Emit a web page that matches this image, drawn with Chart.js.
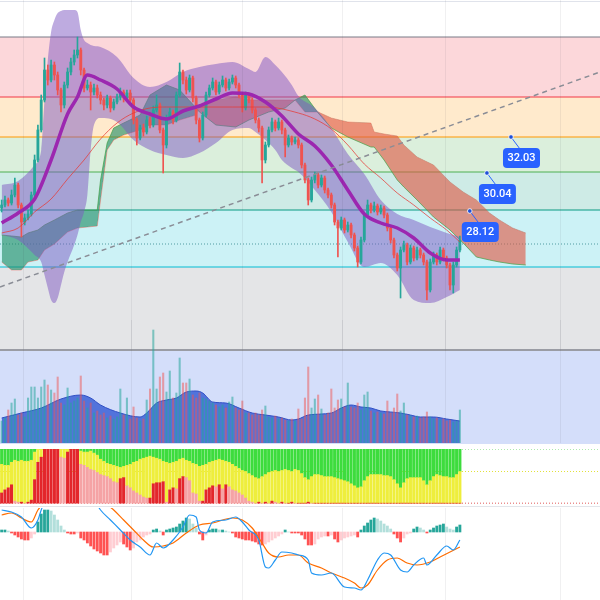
<!DOCTYPE html>
<html><head><meta charset="utf-8">
<script src="https://cdn.jsdelivr.net/npm/chart.js@4.4.0/dist/chart.umd.min.js"></script>
<style>
html,body{margin:0;padding:0;background:#fff;width:600px;height:600px;overflow:hidden;font-family:Roboto,"Noto Sans",sans-serif;}
.pane{position:absolute;left:0;width:600px;}
canvas{position:absolute;left:0;}
</style></head><body>
<div class="pane" style="top:1px;height:0;border-top:1px solid #e0e3eb"></div>
<canvas id="main" width="600" height="350" style="top:0px"></canvas>
<div class="pane" style="top:349px;height:93px;background:#d4defa;border-top:2px solid #9a9ca4"></div>
<canvas id="vol" width="600" height="123" style="top:320px"></canvas>
<canvas id="stk" width="600" height="55" style="top:449px"></canvas>
<div class="pane" style="top:506px;height:0;border-top:1px solid #e3e5ea"></div>
<canvas id="macd" width="600" height="92" style="top:508px"></canvas>
<script>
// ================= DATA =================
const X_MIN = -0.5, X_MAX = 181.5;          // bar-index range of the time axis (incl. future space)
const gridIdx = [23, 56, 90, 117, 152];      // month boundaries (vertical grid)

// OHLC prices
const open = [28.22,28.37,28.62,28.47,28.87,29.37,28.37,27.52,27.72,27.92,
28.87,30.62,32.12,33.62,35.12,34.62,35.37,34.87,34.12,33.37,
34.37,35.02,35.52,35.87,36.12,35.12,34.22,34.37,34.02,34.22,
33.87,33.62,33.37,33.72,33.22,33.52,33.77,34.02,33.72,33.97,
33.62,32.62,31.72,32.22,32.02,32.62,32.37,33.12,33.37,32.12,
31.37,32.72,33.02,32.62,33.87,35.02,34.62,34.12,34.72,33.72,
32.62,31.72,32.87,33.87,34.22,34.52,34.02,34.37,34.62,34.22,
34.52,34.72,34.37,33.87,33.22,33.87,33.62,33.12,32.62,32.22,
30.62,31.37,32.12,32.52,32.22,32.52,32.12,31.37,31.72,31.52,
31.62,31.37,30.37,29.62,28.62,29.62,29.87,29.37,29.72,29.12,
28.87,28.37,27.52,27.22,27.62,27.12,27.37,26.87,26.22,25.52,
26.62,27.87,28.37,28.12,28.32,28.02,28.22,27.87,27.22,26.62,
25.87,25.22,26.12,26.37,25.52,26.22,25.72,26.12,25.87,25.52,
24.12,25.52,25.87,25.52,26.12,25.72,25.37,24.37,25.37,26.12];
const close = [28.37,28.62,28.47,28.87,29.37,28.37,27.52,27.72,27.92,28.87,
30.62,32.12,33.62,35.12,34.62,35.37,34.87,34.12,33.37,34.37,
35.02,35.52,35.87,36.12,35.12,34.22,34.37,34.02,34.22,33.87,
33.62,33.37,33.72,33.22,33.52,33.77,34.02,33.72,33.97,33.62,
32.62,31.72,32.22,32.02,32.62,32.37,33.12,33.37,32.12,31.37,
32.72,33.02,32.62,33.87,35.02,34.62,34.12,34.72,33.72,32.62,
31.72,32.87,33.87,34.22,34.52,34.02,34.37,34.62,34.22,34.52,
34.72,34.37,33.87,33.22,33.87,33.62,33.12,32.62,32.22,30.62,
31.37,32.12,32.52,32.22,32.52,32.12,31.37,31.72,31.52,31.62,
31.37,30.37,29.62,28.62,29.62,29.87,29.37,29.72,29.12,28.87,
28.37,27.52,27.22,27.62,27.12,27.37,26.87,26.22,25.52,26.62,
27.87,28.37,28.12,28.32,28.02,28.22,27.87,27.22,26.62,25.87,
25.22,26.12,26.37,25.52,26.22,25.72,26.12,25.87,25.52,24.12,
25.52,25.87,25.52,26.12,25.72,25.37,24.37,25.37,26.12,26.62];
const high = [28.62,28.82,28.72,29.12,29.72,29.47,28.47,27.92,28.12,29.02,
30.87,32.37,33.87,35.72,35.37,35.62,35.52,35.02,34.22,34.52,
35.22,35.72,36.12,36.77,36.22,35.22,34.62,34.52,34.42,34.37,
34.02,33.72,33.87,33.82,33.67,33.92,34.22,34.12,34.12,34.12,
33.72,32.72,32.37,32.42,32.82,32.77,33.32,33.87,33.47,32.22,
32.87,33.22,33.12,34.02,35.47,35.12,34.77,34.87,34.82,33.82,
32.72,33.02,34.02,34.37,34.72,34.62,34.52,34.82,34.72,34.67,
34.87,34.82,34.47,33.97,34.02,33.97,33.72,33.22,32.72,32.32,
31.52,32.27,32.72,32.62,32.72,32.62,32.22,31.87,31.82,31.77,
31.72,31.47,30.47,29.72,29.77,30.02,29.97,29.87,29.82,29.22,
28.97,28.47,27.62,27.77,27.72,27.52,27.47,26.97,26.32,26.77,
28.02,28.62,28.47,28.52,28.42,28.37,28.32,27.97,27.32,26.72,
25.97,26.27,26.57,26.47,26.37,26.32,26.27,26.22,25.97,25.62,
25.67,26.02,25.97,26.27,26.22,25.82,25.47,25.52,26.27,26.82];
const low = [28.02,28.27,28.32,28.37,28.77,28.22,26.77,27.37,27.62,27.82,
28.77,30.52,32.02,33.52,34.37,34.52,34.62,33.87,33.02,33.22,
34.22,34.87,35.37,35.72,34.87,34.02,34.12,33.12,33.87,33.72,
33.42,33.12,33.22,33.02,33.12,33.42,33.62,33.52,33.62,33.42,
32.42,31.37,31.62,31.82,31.92,32.22,32.27,33.02,31.97,29.97,
31.22,32.62,32.42,32.52,33.77,34.42,33.92,34.02,33.52,32.42,
31.52,31.62,32.77,33.77,34.12,33.87,33.92,34.27,34.07,34.12,
34.42,34.22,33.72,33.02,33.12,33.47,32.97,32.47,32.02,29.47,
30.47,31.27,32.02,32.07,32.12,31.92,30.77,31.27,31.37,31.42,
31.22,30.22,29.47,28.37,28.52,29.47,29.22,29.27,28.97,28.72,
28.22,27.37,25.77,27.12,26.97,27.02,26.72,26.07,25.27,25.42,
26.52,27.77,27.97,28.02,27.87,27.92,27.72,27.07,26.47,25.72,
25.07,23.72,26.02,25.37,25.42,25.57,25.62,25.72,25.37,23.62,
24.02,25.42,25.37,25.42,25.57,25.22,24.12,23.97,25.27,26.02];

// Fibonacci retracement levels (0 .. 1) and extra dotted level
const fibLevels = [36.77, 33.77, 31.77, 30.02, 28.12, 25.27, 21.12];
const oteLevel = 26.42;

// Bollinger-type envelope (sampled at bar indexes)
const bbIdx = [0,5,10,12,13,14,15,16,17,18,19,20,22,23,24,25,26,27,28,30,35,40,45,50,55,60,65,70,75,77,80,83,85,88,90,95,100,105,110,115,120,125,130,135,139];
const bbUpper = [29.37,29.57,30.37,31.12,33.62,35.62,37.02,37.62,37.97,38.07,38.12,38.12,38.12,38.02,37.12,36.62,36.47,36.37,36.32,36.27,35.77,34.72,34.27,34.52,35.02,35.27,35.42,35.52,35.17,35.02,35.77,35.37,35.02,34.37,33.82,33.22,32.22,30.92,29.92,28.62,27.92,27.62,27.27,26.97,26.77];
const bbLower = [26.87,26.62,25.87,25.52,24.87,24.22,23.62,23.47,23.72,24.37,25.02,25.52,26.37,26.87,27.52,28.02,28.87,31.12,32.37,32.72,32.52,31.62,31.12,30.87,30.72,30.97,31.47,32.12,32.22,32.02,31.62,31.12,30.62,30.22,30.02,29.12,28.02,26.52,25.27,25.47,24.87,23.62,23.47,23.77,24.12];
const smaIdx = [0,5,10,15,20,23,26,30,35,40,45,50,55,60,65,70,75,80,85,90,95,100,105,110,115,120,125,130,135,139];
const smaVals = [27.47,27.97,28.67,30.62,32.92,33.77,34.87,34.62,34.17,33.27,32.92,32.67,33.07,33.32,33.67,33.97,33.92,33.52,32.82,31.92,31.32,30.37,29.12,27.92,27.47,27.22,26.72,25.97,25.62,25.62];
const slowIdx = [0,5,10,15,20,25,30,35,40,45,50,60,70,80,90,95,100,105,110,115,120,125,130,135,139];
const slowVals = [26.97,27.22,28.02,28.67,29.67,30.62,31.67,32.47,32.97,33.22,33.27,33.27,33.27,33.27,32.97,32.67,32.17,31.37,30.42,29.72,28.97,28.37,27.72,27.12,26.52];

// Ichimoku cloud (leading spans, shifted into the future)
const cloudIdx = [0,3,6,8,11,13,16,20,23,29,30,32,34,37,42,45,50,54,59,60,65,71,75,81,86,89,92,96,100,105,112,113,116,120,122,126,131,136,140,144,148,151,155,159];
const spanA = [26.87,26.82,26.77,26.97,27.12,27.37,27.62,27.97,28.12,28.12,29.62,31.47,32.22,32.47,32.87,33.87,34.37,34.12,33.22,33.02,32.37,32.27,32.62,33.02,33.22,33.62,33.87,32.97,32.22,31.77,31.27,31.27,30.62,29.62,29.27,28.62,27.77,27.12,26.47,25.77,25.62,25.52,25.42,25.37];
const spanB = [25.52,25.12,25.12,25.52,25.62,26.12,26.42,27.02,27.22,27.32,28.62,31.12,31.62,31.87,32.12,32.37,32.37,32.62,32.87,33.37,33.62,33.77,33.62,33.62,33.62,33.62,33.02,33.02,32.72,32.52,32.47,32.02,31.92,31.82,31.37,30.77,30.37,29.52,29.02,28.62,27.97,27.62,27.22,26.97];

// Trend line and price labels
const trendIdx = [-0.5, 181.5];
const trendPrice = [24.27, 35.02];
const labelText = ['28.12', '30.04', '32.03'];
const labelIdx = [142, 147.2, 154.5];
const labelPrice = [28.07, 29.97, 31.77];

// Volume (thousands) and its moving average
const volume = [220,250,330,400,440,280,300,260,450,560,
560,450,560,630,580,530,500,660,400,380,
550,400,420,450,670,420,350,400,300,320,
280,300,250,270,240,260,540,280,450,240,
360,250,220,240,430,540,1130,540,660,700,
510,720,450,500,850,600,600,640,480,450,
500,450,440,420,400,380,360,380,350,410,
460,350,330,420,300,300,280,300,280,330,
370,260,250,270,240,250,230,220,240,220,
340,240,450,760,350,440,480,340,280,300,
540,350,430,440,360,600,360,350,400,330,
480,510,320,300,310,300,290,420,300,350,
490,320,400,280,270,260,270,250,260,310,
260,240,250,230,240,220,230,210,220,330];
const volMaIdx = [0,6,12,18,24,27,30,36,42,44,47,50,53,56,59,61,64,68,72,76,80,84,88,90,93,100,103,106,109,112,115,118,121,124,127,131,135,139];
const volMaVals = [250,300,350,440,480,450,380,300,260,300,400,430,450,510,520,500,410,400,350,300,280,260,230,240,280,300,350,380,360,350,320,310,300,280,260,260,240,220];

// Three-zone oscillator (red / yellow / green parts, total 53)
const zoneRed = [10,13,15,18,2,1,1,0,1,3, 23,40,45,53,53,53,53,53,45,44, 50,53,53,53,38,37,35,33,32,30,
28,27,26,24,21,20,24,25,17,15, 12,10,8,6,5,5,19,20,20,21, 1,13,15,14,24,26,25,22,10,9,
2,2,13,15,17,16,18,14,18,16, 13,12,10,8,5,2,1,0,1,0, 1,0,2,1,0,1,0,0,1,0,
0,0,0,1,0,0,0,0,0,0, 0,0,0,0,0,0,0,0,0,0, 0,0,0,0,0,0,0,0,0,0,
0,0,0,0,0,0,0,0,0,0, 0,0,0,0,0,0,0,0,0,0];
const zoneYellow = [28,24,22,22,40,40,41,41,40,39, 27,13,8,0,0,0,0,0,8,9, 3,0,0,0,13,13,15,18,17,17,
15,14,13,14,16,16,11,11,20,23, 28,31,35,38,40,41,26,24,23,20, 39,26,25,27,19,18,17,19,29,29,
34,35,25,25,24,26,25,28,23,24, 25,24,24,24,26,27,26,25,23,26, 27,30,29,31,31,31,33,32,30,33,
32,29,25,22,26,28,28,27,26,26, 26,25,24,23,22,21,19,17,15,16, 22,26,28,28,28,28,27,27,26,23,
19,15,20,24,25,25,25,25,22,18, 22,26,28,27,26,26,25,25,28,31];
const zoneGreen = [15,16,16,13,11,12,11,12,12,11, 3,0,0,0,0,0,0,0,0,0, 0,0,0,0,2,3,3,2,4,6,
10,12,14,15,16,17,18,17,16,15, 13,12,10,9,8,7,8,9,10,12, 13,14,13,12,10,9,11,12,14,15,
17,16,15,13,12,11,10,11,12,13, 15,17,19,21,22,24,26,28,29,27, 25,23,22,21,22,21,20,21,22,20,
21,24,28,30,27,25,25,26,27,27, 27,28,29,30,31,32,34,36,38,37, 31,27,25,25,25,25,26,26,27,30,
34,38,33,29,28,28,28,28,31,35, 31,27,25,26,27,27,28,28,25,22];
const zoneRefs = [53, 31, 0];

// MACD
const macdHist = [0.02,0.02,0.01,-0.01,-0.03,-0.05,-0.07,-0.08,-0.08,-0.06,
-0.02,0.10,0.18,0.22,0.22,0.21,0.17,0.12,0.06,0.02,
-0.01,-0.02,-0.02,-0.01,-0.06,-0.08,-0.11,-0.14,-0.17,-0.19,
-0.21,-0.23,-0.23,-0.20,-0.16,-0.13,-0.10,-0.12,-0.15,-0.18,
-0.16,-0.10,-0.08,-0.05,-0.03,-0.02,0.02,0.03,0.01,-0.03,
0.02,0.03,0.04,0.05,0.08,0.11,0.14,0.13,0.08,0.04,
-0.02,-0.08,-0.03,0.02,0.03,0.03,0.02,0.02,0.01,0.00,
-0.01,-0.05,-0.06,-0.07,-0.08,-0.08,-0.09,-0.10,-0.12,-0.13,
-0.12,-0.10,-0.08,-0.06,-0.04,-0.02,0.02,0.00,-0.01,-0.01,
-0.01,-0.03,-0.07,-0.13,-0.13,-0.12,-0.07,-0.05,-0.04,-0.04,
-0.03,-0.07,-0.10,-0.08,-0.06,-0.05,-0.04,-0.03,-0.05,0.02,
0.06,0.09,0.12,0.14,0.13,0.11,0.08,0.06,0.03,-0.02,
-0.06,-0.10,-0.06,-0.02,-0.01,0.03,0.05,0.04,0.02,-0.01,
0.02,0.04,0.06,0.07,0.08,0.05,0.03,0.02,0.05,0.07];
const macdIdx = [0,3,6,9,11,12,15,18,21,24,27,30,33,36,39,42,45,47,49,52,55,57,59,60,62,64,68,71,73,75,78,80,81,83,85,88,90,93,94,97,100,104,107,109,111,114,116,118,121,123,125,128,129,132,135,137,139];
const macdVals = [0.22,0.20,0.15,0.04,0.12,0.22,0.45,0.60,0.62,0.52,0.38,0.22,0.12,0.02,-0.08,-0.15,-0.23,-0.11,-0.16,-0.08,0.05,0.17,0.15,0.02,-0.01,0.10,0.12,0.15,0.10,0.02,-0.08,-0.35,-0.36,-0.28,-0.20,-0.21,-0.23,-0.28,-0.41,-0.43,-0.41,-0.55,-0.56,-0.58,-0.48,-0.28,-0.21,-0.23,-0.38,-0.40,-0.33,-0.26,-0.33,-0.23,-0.14,-0.18,-0.08];
const signalIdx = [0,3,6,9,11,15,18,22,27,31,34,37,40,43,46,49,52,56,60,64,70,73,76,79,81,84,87,90,93,97,100,104,107,109,111,114,117,120,123,126,130,133,136,139];
const signalVals = [0.17,0.19,0.14,0.10,0.22,0.36,0.50,0.58,0.46,0.30,0.22,0.12,0.02,-0.08,-0.15,-0.14,-0.11,-0.01,0.07,0.09,0.14,0.12,0.04,-0.11,-0.21,-0.25,-0.23,-0.23,-0.31,-0.36,-0.41,-0.46,-0.51,-0.56,-0.53,-0.38,-0.28,-0.26,-0.31,-0.33,-0.30,-0.25,-0.20,-0.15];

// ================= STYLE =================
const UP = '#26a69a', DOWN = '#ef5350';
const fibLine = ['#787b86','#f23645','#ff9800','#4caf50','#089981','#00bcd4','#787b86'];
const fibFill = ['rgba(242,54,69,0.2)','rgba(255,152,0,0.2)','rgba(76,175,80,0.2)','rgba(8,153,129,0.2)','rgba(0,188,212,0.2)','rgba(120,123,134,0.2)'];

const barIdx = close.map((_, i) => i);
const isUp = barIdx.map(i => close[i] >= open[i]);
const pts = (xs, ys) => xs.map((x, k) => ({x, y: ys[k]}));
const flat = v => [{x: X_MIN, y: v}, {x: X_MAX, y: v}];

const common = {
  responsive: false, animation: false, events: [],
  layout: {padding: 0, autoPadding: false},
  plugins: {legend: {display: false}, tooltip: {enabled: false}}
};
function xAxis(showGrid, stacked) {
  return {type: 'linear', min: X_MIN, max: X_MAX, offset: false, stacked: !!stacked, display: true,
    border: {display: false}, ticks: {display: false},
    grid: {display: showGrid, color: 'rgba(42,46,57,0.07)', drawTicks: false, z: 1},
    afterBuildTicks(s) { s.ticks = gridIdx.map(v => ({value: v})); }};
}
const line = (data, o) => Object.assign({type: 'line', data, pointRadius: 0, borderWidth: 1, fill: false}, o);

// ---- price labels plugin ----
const labelPlugin = {
  id: 'priceLabels',
  afterDatasetsDraw(chart) {
    const {ctx, scales: {x, y}} = chart;
    ctx.save();
    labelText.forEach((t, k) => {
      const px = x.getPixelForValue(labelIdx[k]), py = y.getPixelForValue(labelPrice[k]);
      const bw = 37, bh = 20, bx = px - 8, by = py + 11;
      ctx.strokeStyle = '#2962ff'; ctx.lineWidth = 1;
      ctx.beginPath(); ctx.moveTo(px, py); ctx.lineTo(px + 9, by + 1); ctx.stroke();
      ctx.fillStyle = '#2962ff';
      ctx.beginPath(); ctx.roundRect(bx, by, bw, bh, 4); ctx.fill();
      ctx.fillStyle = '#ffffff'; ctx.font = '500 11px Roboto'; ctx.textAlign = 'center'; ctx.textBaseline = 'middle';
      ctx.fillText(t, bx + bw / 2, by + bh / 2 + 0.5);
      ctx.beginPath(); ctx.arc(px, py, 2.3, 0, Math.PI * 2);
      ctx.fillStyle = '#1f4fd8'; ctx.fill(); ctx.strokeStyle = 'rgba(255,255,255,0.8)'; ctx.stroke();
    });
    ctx.restore();
  }
};

// ---- main price pane ----
const mainSets = [];
fibLevels.forEach((v, k) => mainSets.push(line(flat(v), {borderColor: fibLine[k], fill: k < 6 ? '+1' : false, backgroundColor: fibFill[k] || 'transparent', order: 100})));
mainSets.push(line(flat(oteLevel), {borderColor: '#4f9aa0', borderDash: [1, 2], order: 99}));
mainSets.push(line(pts(cloudIdx, spanA), {borderColor: 'rgba(67,160,71,0.7)', order: 90,
  fill: {target: '+1', above: 'rgba(30,140,100,0.62)', below: 'rgba(222,88,68,0.62)'}}));
mainSets.push(line(pts(cloudIdx, spanB), {borderColor: 'rgba(244,67,54,0.35)', order: 90}));
mainSets.push(line(pts(bbIdx, bbUpper), {borderWidth: 0, borderColor: 'transparent', tension: 0.3, cubicInterpolationMode: 'monotone', fill: '+1', backgroundColor: 'rgba(126,87,194,0.5)', order: 80}));
mainSets.push(line(pts(bbIdx, bbLower), {borderWidth: 0, borderColor: 'transparent', cubicInterpolationMode: 'monotone', order: 80}));
mainSets.push({type: 'bar', data: barIdx.map(i => ({x: i, y: [low[i], high[i]]})), backgroundColor: isUp.map(u => u ? UP : DOWN), barThickness: 1, grouped: false, order: 50});
mainSets.push({type: 'bar', data: barIdx.map(i => ({x: i, y: [open[i], close[i]]})), backgroundColor: isUp.map(u => u ? UP : DOWN), barThickness: 2.2, minBarLength: 1, grouped: false, order: 49});
mainSets.push(line(pts(slowIdx, slowVals), {borderColor: 'rgba(229,57,53,0.75)', borderWidth: 1, cubicInterpolationMode: 'monotone', order: 40}));
mainSets.push(line(pts(smaIdx, smaVals), {borderColor: '#9c27b0', borderWidth: 3.5, cubicInterpolationMode: 'monotone', order: 30}));
mainSets.push(line(pts(trendIdx, trendPrice), {borderColor: '#8a8d96', borderWidth: 1.5, borderDash: [5, 4], order: 20}));

new Chart(document.getElementById('main'), {
  type: 'line', data: {datasets: mainSets},
  options: Object.assign({}, common, {scales: {x: xAxis(true), y: {type: 'linear', min: 21.12, max: 38.62, display: false}}}),
  plugins: [labelPlugin]
});

// ---- volume pane ----
new Chart(document.getElementById('vol'), {
  type: 'line',
  data: {datasets: [
    {type: 'bar', data: barIdx.map(i => ({x: i, y: volume[i]})), backgroundColor: isUp.map(u => u ? 'rgba(38,166,154,0.55)' : 'rgba(239,83,80,0.5)'), barThickness: 1.4, grouped: false, order: 1},
    line(pts(volMaIdx, volMaVals), {borderColor: '#2f4fc4', borderWidth: 1, cubicInterpolationMode: 'monotone', fill: 'origin', backgroundColor: 'rgba(45,85,210,0.78)', order: 2})
  ]},
  options: Object.assign({}, common, {scales: {x: xAxis(true), y: {type: 'linear', min: 0, max: 1230, display: false}}})
});

// ---- three-zone oscillator pane ----
const redCols = zoneRed.map((v, i) => (i === 0 || v >= zoneRed[i - 1]) ? '#e3262b' : '#f5a3a5');
const zoneLineCols = ['#5fd65f', '#e2e23a', '#e05a5a'];
new Chart(document.getElementById('stk'), {
  type: 'line',
  data: {datasets: [
    {type: 'bar', data: barIdx.map(i => ({x: i, y: zoneRed[i]})), backgroundColor: redCols, barThickness: 2.4, order: 1},
    {type: 'bar', data: barIdx.map(i => ({x: i, y: zoneYellow[i]})), backgroundColor: '#eeee3c', barThickness: 2.4, order: 1},
    {type: 'bar', data: barIdx.map(i => ({x: i, y: zoneGreen[i]})), backgroundColor: '#3ddc3d', barThickness: 2.4, order: 1},
    ...zoneRefs.map((v, k) => line(flat(v), {yAxisID: 'y2', borderColor: zoneLineCols[k], borderDash: [1, 2], order: 10}))
  ]},
  options: Object.assign({}, common, {scales: {
    x: xAxis(false, true),
    y: {type: 'linear', stacked: true, min: -0.8, max: 53, display: false},
    y2: {type: 'linear', min: -0.8, max: 53, display: false}
  }})
});

// ---- MACD pane ----
const histCols = macdHist.map((v, i) => {
  const p = i ? macdHist[i - 1] : 0;
  if (v >= 0) return v >= p ? '#26a69a' : '#b2dfdb';
  return v <= p ? '#ff5252' : '#ffcdd2';
});
new Chart(document.getElementById('macd'), {
  type: 'line',
  data: {datasets: [
    {type: 'bar', data: barIdx.map(i => ({x: i, y: macdHist[i]})), backgroundColor: histCols, barThickness: 2.2, grouped: false, order: 5},
    line(pts(macdIdx, macdVals), {borderColor: '#2196f3', borderWidth: 1.2, cubicInterpolationMode: 'monotone', order: 2}),
    line(pts(signalIdx, signalVals), {borderColor: '#ff6d00', borderWidth: 1.2, cubicInterpolationMode: 'monotone', order: 3})
  ]},
  options: Object.assign({}, common, {scales: {x: xAxis(true), y: {type: 'linear', min: -0.68, max: 0.24, display: false}}})
});
</script>
</body></html>
